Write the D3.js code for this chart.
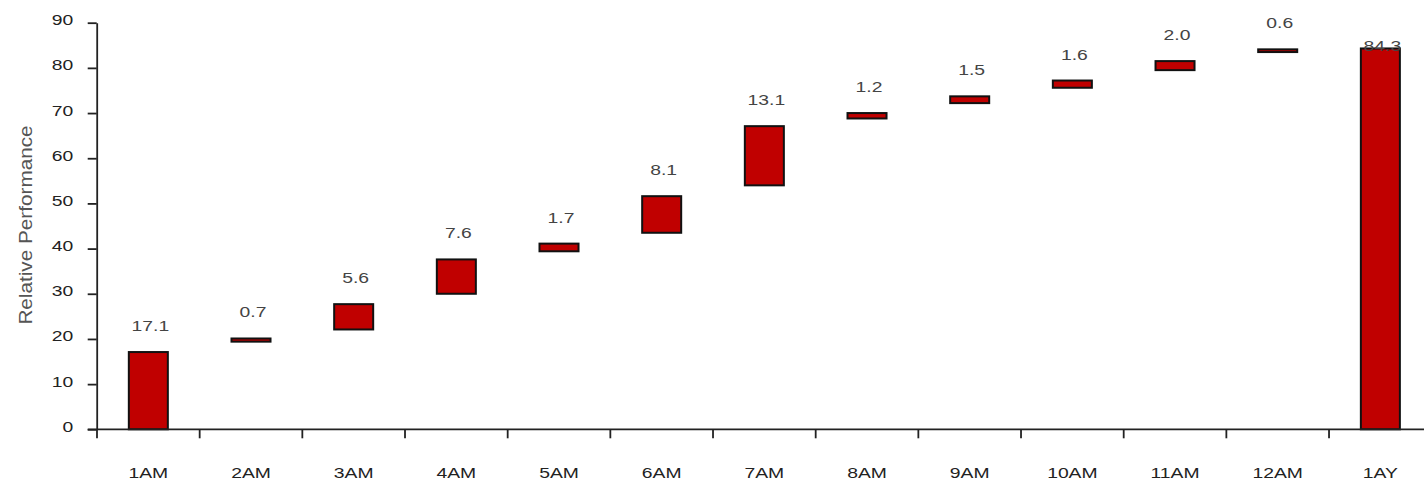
<!DOCTYPE html>
<html>
<head>
<meta charset="utf-8">
<script src="https://cdn.jsdelivr.net/npm/d3@7"></script>
<style>
  html, body { margin: 0; padding: 0; background: #fff; }
  svg { display: block; font-family: "Liberation Sans", Arial, sans-serif; }
</style>
</head>
<body>
<svg id="chart" width="1424" height="482"></svg>
<script>
// Waterfall of relative performance contributions
const categories = ["1AM", "2AM", "3AM", "4AM", "5AM", "6AM", "7AM", "8AM", "9AM", "10AM", "11AM", "12AM", "1AY"];
const changes    = [17.1, 0.7, 5.6, 7.6, 1.7, 8.1, 13.1, 1.2, 1.5, 1.6, 2.0, 0.6, 84.3];
const bases      = [0, 19.4, 22.1, 30.0, 39.4, 43.5, 54.0, 68.8, 72.2, 75.6, 79.5, 83.5, 0];
const yTicks     = [0, 10, 20, 30, 40, 50, 60, 70, 80, 90];
const yTitle     = "Relative Performance";

const svg = d3.select("#chart");
const stretch = 1.38;       // horizontal glyph stretch
const fontSize = 14;

const y = d3.scaleLinear().domain([0, 90]).range([429.3, 22.7]);
const x = d3.scaleBand()
  .domain(categories)
  .range([97, 1431.7])
  .paddingInner(0.62)
  .paddingOuter(0.31);

const step = x.step();
const edge = d => x(d) - step * 0.31;   // left boundary of each category slot

// Bars (floating steps and the final total)
svg.append("g")
  .selectAll("rect")
  .data(categories)
  .join("rect")
  .attr("x", d => x(d))
  .attr("width", x.bandwidth())
  .attr("y", (d, i) => y(bases[i] + changes[i]))
  .attr("height", (d, i) => y(bases[i]) - y(bases[i] + changes[i]))
  .attr("fill", "#c00000")
  .attr("stroke", "#111")
  .attr("stroke-width", 2);

// Value labels above each bar
svg.append("g")
  .selectAll("text")
  .data(categories)
  .join("text")
  .attr("transform", (d, i) => {
    const last = i === categories.length - 1;
    const top = bases[i] + changes[i];
    const yy = last ? y(top) + 2.5 : y(top) - 21;
    return `translate(${x(d) + x.bandwidth() / 2 + 2},${yy}) scale(${stretch},1)`;
  })
  .attr("text-anchor", "middle")
  .attr("font-size", fontSize)
  .attr("fill", "#444")
  .text((d, i) => changes[i].toFixed(1));

// Y axis
const yAxis = svg.append("g")
  .attr("transform", "translate(96.7,0)")
  .call(d3.axisLeft(y).tickValues(yTicks).tickSize(9).tickSizeOuter(0).tickFormat(d3.format("d")));
yAxis.select(".domain").attr("stroke", "#222").attr("stroke-width", 1.8);
yAxis.selectAll(".tick line").attr("stroke", "#222").attr("stroke-width", 1.8);
yAxis.selectAll(".tick text")
  .attr("x", -23.5 / stretch)
  .attr("y", -2.5)
  .attr("transform", `scale(${stretch},1)`)
  .attr("font-size", fontSize)
  .attr("font-family", "Liberation Sans, Arial, sans-serif")
  .attr("fill", "#222");

// X axis baseline with boundary ticks
const xAxis = svg.append("g");
xAxis.append("line")
  .attr("x1", 87.7).attr("x2", 1424)
  .attr("y1", y(0)).attr("y2", y(0))
  .attr("stroke", "#222").attr("stroke-width", 1.8);
xAxis.selectAll("line.tick")
  .data(categories)
  .join("line")
  .attr("class", "tick")
  .attr("x1", d => edge(d)).attr("x2", d => edge(d))
  .attr("y1", y(0)).attr("y2", y(0) + 9)
  .attr("stroke", "#222").attr("stroke-width", 1.8);
xAxis.selectAll("text")
  .data(categories)
  .join("text")
  .attr("transform", d => `translate(${x(d) + x.bandwidth() / 2},${477.5}) scale(${stretch},1)`)
  .attr("text-anchor", "middle")
  .attr("font-size", fontSize)
  .attr("fill", "#222")
  .text(d => d);

// Y axis title
svg.append("text")
  .attr("transform", `translate(25,225) rotate(-90) scale(1.48,1.3)`)
  .attr("text-anchor", "middle")
  .attr("dy", "0.36em")
  .attr("font-size", fontSize)
  .attr("fill", "#555")
  .text(yTitle);
</script>
</body>
</html>
